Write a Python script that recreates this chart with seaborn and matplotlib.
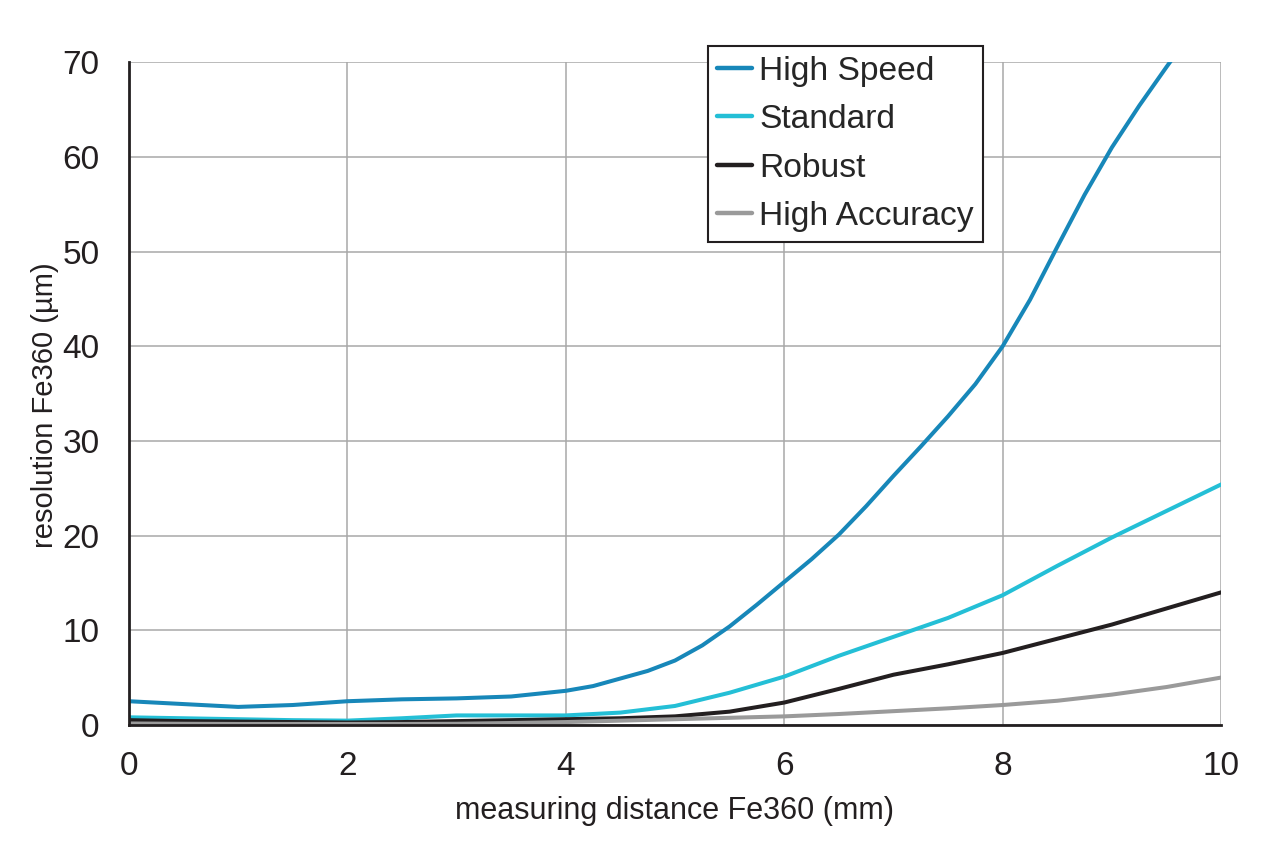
import pandas as pd
import seaborn as sns
import matplotlib.pyplot as plt

distance = [0, 0.5, 1, 1.5, 2, 2.5, 3, 3.5, 4, 4.5, 5, 5.5, 6, 6.5, 7, 7.5, 8, 8.5, 9, 9.5, 10]
standard = [0.8, 0.7, 0.6, 0.5, 0.45, 0.7, 1.0, 1.0, 1.0, 1.3, 2.0, 3.4, 5.1, 7.3, 9.3, 11.3, 13.7, 16.8, 19.8, 22.6, 25.4]
robust = [0.5, 0.4, 0.35, 0.3, 0.25, 0.3, 0.4, 0.5, 0.6, 0.7, 0.9, 1.4, 2.36, 3.8, 5.3, 6.4, 7.6, 9.1, 10.6, 12.3, 14.0]
high_accuracy = [0.15, 0.12, 0.1, 0.1, 0.1, 0.1, 0.12, 0.2, 0.3, 0.45, 0.6, 0.75, 0.9, 1.15, 1.45, 1.75, 2.1, 2.55, 3.2, 4.0, 5.0]

# high speed read more densely where it bends
hs_distance = [0, 0.5, 1, 1.5, 2, 2.5, 3, 3.5, 4, 4.25, 4.5, 4.75, 5, 5.25, 5.5, 5.75, 6, 6.25, 6.5,
               6.75, 7, 7.25, 7.5, 7.75, 8, 8.25, 8.5, 8.75, 9, 9.25, 9.5, 9.75, 10]
high_speed = [2.5, 2.2, 1.9, 2.1, 2.5, 2.7, 2.8, 3.0, 3.6, 4.1, 4.9, 5.7, 6.8, 8.4, 10.4, 12.7, 15.1, 17.5, 20.1,
              23.1, 26.3, 29.4, 32.6, 36.0, 40.0, 44.9, 50.5, 56.0, 61.0, 65.4, 69.5, 73.5, 77.0]

series = ["High Speed", "Standard", "Robust", "High Accuracy"]
colors = ["#1787b9", "#24bfd6", "#231f20", "#9a9a9a"]

hs_df = pd.DataFrame({"distance": hs_distance, "resolution": high_speed, "mode": "High Speed"})
rest = pd.DataFrame({"distance": distance, "Standard": standard,
                     "Robust": robust, "High Accuracy": high_accuracy})
rest = rest.melt(id_vars="distance", var_name="mode", value_name="resolution")
long_df = pd.concat([hs_df, rest], ignore_index=True)

sns.set_style("white")
plt.rcParams["font.family"] = ["Liberation Sans", "DejaVu Sans"]

fig = plt.figure(figsize=(12.76, 8.64), dpi=100)
ax = fig.add_axes([0.101, 0.161, 0.856, 0.767])

sns.lineplot(data=long_df, x="distance", y="resolution", hue="mode",
             hue_order=series, palette=colors, linewidth=2.9, ax=ax, zorder=3)

ax.set_xlim(0, 10)
ax.set_ylim(0, 70)
ax.set_xticks(range(0, 11, 2))
ax.set_yticks(range(0, 71, 10))
ax.grid(True, color="#a8a8a8", linewidth=1.1)
ax.set_axisbelow(True)

for side in ["top", "right"]:
    ax.spines[side].set_visible(False)
for side in ["left", "bottom"]:
    ax.spines[side].set_color("#231f20")
    ax.spines[side].set_linewidth(2.0)
    ax.spines[side].set_zorder(4)

ax.tick_params(axis="both", direction="out", length=7, width=1.8,
               color="#231f20", labelsize=24, labelcolor="#231f20")
ax.tick_params(axis="y", pad=14)
ax.tick_params(axis="x", pad=12)

ax.set_xlabel("measuring distance Fe360 (mm)", fontsize=22, color="#231f20")
ax.set_ylabel("resolution Fe360 (µm)", fontsize=21, color="#231f20")
ax.xaxis.set_label_coords(0.4995, -0.107)
ax.yaxis.set_label_coords(-0.064, 0.483)

leg = ax.legend(loc="upper left", bbox_to_anchor=(0.530, 1.024), fontsize=24.2,
                frameon=True, fancybox=False, framealpha=1, edgecolor="#231f20",
                handlelength=1.05, handletextpad=0.2, labelspacing=0.52,
                borderpad=0.28, borderaxespad=0)
leg.get_frame().set_linewidth(1.5)
for line in leg.get_lines():
    line.set_linewidth(3.2)

fig.savefig("out.png", dpi=100)
